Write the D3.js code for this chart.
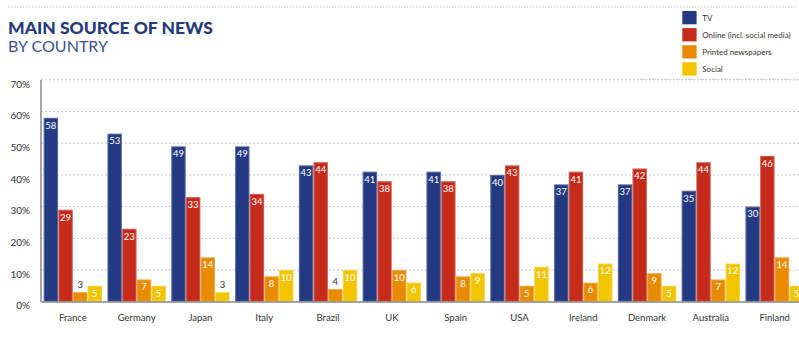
<!DOCTYPE html>
<html><head><meta charset="utf-8">
<script src="https://cdn.jsdelivr.net/npm/d3@7"></script>
<style>body{margin:0;background:#fff}svg{display:block}</style>
</head><body>
<svg id="c" width="799" height="344"></svg>
<script>
const countries = ["France","Germany","Japan","Italy","Brazil","UK","Spain","USA","Ireland","Denmark","Australia","Finland"];
const seriesNames = ["TV","Online (incl. social media)","Printed newspapers","Social"];
const tv       = [58,53,49,49,43,41,41,40,37,37,35,30];
const online   = [29,23,33,34,44,38,38,43,41,42,44,46];
const printed  = [3,7,14,8,4,10,8,5,6,9,7,14];
const social   = [5,5,3,10,10,6,9,11,12,5,12,5];
const yTicks   = [0,10,20,30,40,50,60,70];
const colors   = ["#233a82","#c52b1b","#e98b00","#f2c500"];
const seriesValues = [tv, online, printed, social];

const svg = d3.select("#c");
const font = "Lato, 'DejaVu Sans', sans-serif";

// top dotted rule
svg.append("line").attr("x1",8).attr("x2",797).attr("y1",7).attr("y2",7)
  .attr("stroke","#c8c8c8").attr("stroke-dasharray","1.5,1.5");

// titles
svg.append("text").attr("x",8).attr("y",34.3).text("MAIN SOURCE OF NEWS")
  .attr("font-family",font).attr("font-weight",900).attr("font-size",16.5)
  .attr("fill","#263a7c").attr("textLength",205).attr("lengthAdjust","spacingAndGlyphs");
svg.append("text").attr("x",8).attr("y",51.7).text("BY COUNTRY")
  .attr("font-family",font).attr("font-weight",400).attr("font-size",15.5)
  .attr("fill","#40538f").attr("textLength",100).attr("lengthAdjust","spacingAndGlyphs");

// scales
const y = d3.scaleLinear().domain([0,70]).range([301.7,79.8]);
const x0 = d3.scaleBand().domain(countries).range([43.7,803.8]).paddingInner(0.086).paddingOuter(0);
const x1 = d3.scaleBand().domain(d3.range(4)).range([0,x0.bandwidth()]).paddingInner(0.02);

// gridlines
const grid = svg.append("g");
grid.selectAll("line").data(yTicks.filter(d=>d>0)).join("line")
  .attr("x1",41).attr("x2",799).attr("y1",d=>y(d)).attr("y2",d=>y(d))
  .attr("stroke","#c8c8c8").attr("stroke-dasharray","2,2");

// y axis labels
const yAxis = d3.axisLeft(y).tickValues(yTicks).tickFormat(d=>d+"%").tickSize(0).tickPadding(0);
const ya = svg.append("g").attr("transform","translate(30,4)").call(yAxis);
ya.select(".domain").remove();
ya.selectAll("text").attr("font-family",font).attr("font-size",10).attr("fill","#333");

// bars
const groups = svg.append("g").selectAll("g").data(countries).join("g")
  .attr("transform",d=>`translate(${x0(d)},0)`);
groups.each(function(c,ci){
  const g = d3.select(this);
  seriesValues.forEach((vals,si)=>{
    const v = vals[ci];
    const bx = x1(si), bw = x1.bandwidth();
    g.append("rect").attr("x",bx).attr("width",bw).attr("y",y(v)).attr("height",y(0)-y(v))
      .attr("fill",colors[si]);
    g.append("rect").attr("x",bx+0.5).attr("width",bw-1).attr("y",y(v)+0.5).attr("height",Math.max(0,y(0)-y(v)-1))
      .attr("fill","none").attr("stroke","#fff").attr("stroke-opacity",0.25).attr("stroke-width",1);
    const inside = v >= 5;
    g.append("text").attr("x",bx+bw/2).attr("y",inside ? y(v)+10.8 : y(v)-4)
      .attr("text-anchor","middle").attr("font-family",font).attr("font-size",9.5)
      .attr("fill",inside ? "#fff" : "#333").text(v);
  });
});

// axes lines
svg.append("line").attr("x1",41).attr("x2",41).attr("y1",79.8).attr("y2",302)
  .attr("stroke","#888").attr("stroke-width",1.5);
svg.append("line").attr("x1",41).attr("x2",799).attr("y1",301.9).attr("y2",301.9)
  .attr("stroke","#888").attr("stroke-width",1.5);

// x axis labels
const xAxis = d3.axisBottom(x0).tickSize(0).tickPadding(0);
const xa = svg.append("g").attr("transform","translate(0,314)").call(xAxis);
xa.select(".domain").remove();
xa.selectAll("text").attr("font-family",font).attr("font-size",9.5).attr("fill","#333");

// legend
const lg = svg.append("g").attr("transform","translate(682.3,11)");
seriesNames.forEach((n,i)=>{
  lg.append("rect").attr("x",0).attr("y",i*17.1).attr("width",14.3).attr("height",13.3).attr("fill",colors[i]);
  lg.append("text").attr("x",20).attr("y",i*17.1+9.8).text(n)
    .attr("font-family",font).attr("font-size",8).attr("fill","#333");
});
// dotted line below legend region
svg.append("line").attr("x1",640).attr("x2",797).attr("y1",79.3).attr("y2",79.3)
  .attr("stroke","#c8c8c8").attr("stroke-dasharray","1.5,1.5");
</script>
</body></html>
